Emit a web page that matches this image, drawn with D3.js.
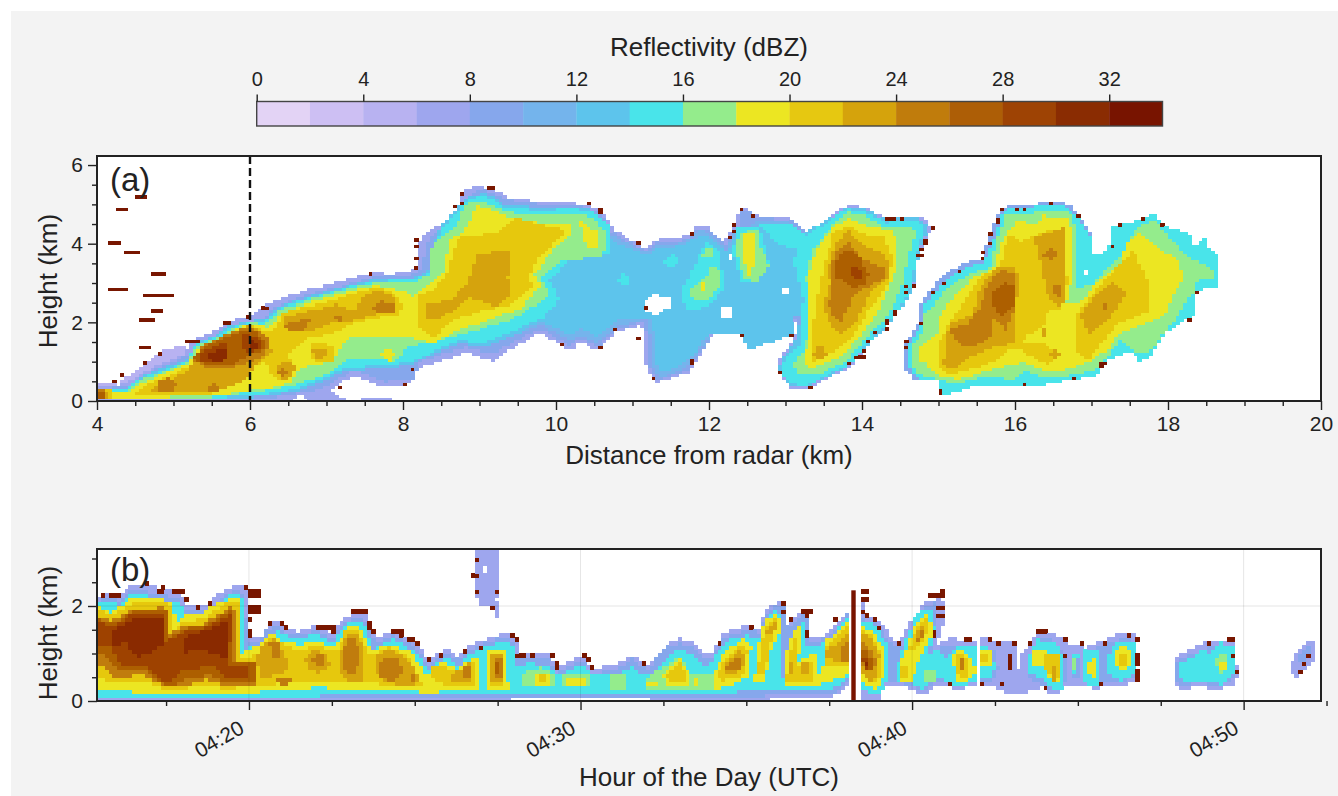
<!DOCTYPE html>
<html>
<head>
<meta charset="utf-8">
<script src="https://cdn.jsdelivr.net/npm/d3@7"></script>
<style>
html, body { margin: 0; padding: 0; background: #fff; }
svg { display: block; }
text { font-family: "Liberation Sans", sans-serif; fill: #222; }
</style>
</head>
<body>
<svg width="1338" height="796"></svg>
<script>
// colour bands, one for every 2 dBZ
const bandColors = ['#e3d3f5','#cdbff3','#b8b2f1','#9ea6ee','#86a7ec','#74b4ec','#5dc4ec','#49e4ea','#94ec8c','#ece622','#e6c811','#d5a30c','#c07c0c','#ad5e06','#9e4304','#8a2c02','#781400'];
const barTicks = [0,4,8,12,16,20,24,28,32];
const distTicks = [4,6,8,10,12,14,16,18,20];
const distMinor = [4.5,5,5.5,6.5,7,7.5,8.5,9,9.5,10.5,11,11.5,12.5,13,13.5,14.5,15,15.5,16.5,17,17.5,18.5,19,19.5];
const heightTicksA = [0,2,4,6];
const heightMinorA = [0.5,1,1.5,2.5,3,3.5,4.5,5,5.5];
const heightTicksB = [0,2];
const heightMinorB = [0.5,1,1.5,2.5,3];
const timeTicks = [20,30,40,50];
const timeMinor = [17.5,22.5,25,27.5,32.5,35,37.5,42.5,45,47.5,52.5];
const markerDist = 6;

// panel (a): contours, flat km,km pairs, area is >= that dBZ
const rhi4 = [[4,.44,4.25,.48,4.47,.7,4.65,.95,4.86,1.33,5.12,1.39,5.2,1.2,4.9,.9,4.5,.55,4,.3]];
const rhi6 = [[4,.38,4.3,.42,4.5,.6,4.8,.95,5.15,1.2,5.2,1.5,5.43,1.7,5.65,1.9,5.8,2.08,6,2.12,6.17,2.43,6.43,2.64,6.78,2.85,7.08,2.98,7.43,3.19,7.65,3.28,7.83,3.19,8.17,3.36,8.22,4.08,8.35,4.34,8.57,4.59,8.72,4.93,8.75,5.28,8.92,5.45,9.14,5.4,9.36,5.19,9.83,5.06,10.13,5.06,10.4,5,10.62,4.8,10.75,4.35,11.05,4,11.18,3.87,11.31,4.09,11.62,4.13,11.77,4.25,11.84,4.47,11.97,4.43,12.19,4,12.29,4.35,12.36,4.47,12.38,4.9,12.49,4.9,12.6,4.73,12.8,4.68,13.06,4.64,13.28,4.3,13.58,4.68,13.8,4.98,14.02,4.94,14.32,4.64,14.76,4.72,14.9,4.39,14.8,3.94,14.72,3.66,14.67,2.9,14.6,2.7,14.37,2.13,14.24,1.8,13.84,.87,13.58,.62,13.28,.32,13.06,.35,12.88,.78,12.93,1.12,13.1,1.54,13.15,1.89,13.1,2.23,13.03,2.4,12.97,2.31,12.97,1.88,12.76,1.72,12.47,1.5,12.43,1.93,12.1,1.93,11.97,1.46,11.75,.74,11.31,.48,11.18,.78,11.16,1.54,11.11,2,11,1.87,10.79,1.79,10.55,1.29,10.31,1.5,10.18,1.29,9.79,1.76,9.44,1.37,9.16,1.03,8.83,1.25,8.48,1.03,8.17,.86,8.09,.44,7.74,.36,7.35,.65,7.04,.31,7.2,.07,7.3,0,4,0],
  [7.43,0,7.45,.06,7.83,.06,7.85,0]];
const rhi8 = [[4,.3,4.4,.4,4.8,.85,5.2,1.2,5.3,1.5,5.7,1.72,5.85,1.98,6.05,2.05,6.2,2.15,6.3,2.4,6.8,2.75,7.1,2.88,7.45,3.08,7.7,3.2,8.1,3.22,8.25,3.4,8.3,4,8.4,4.25,8.7,4.5,8.8,5,8.95,5.38,9.15,5.33,9.38,5.13,9.85,5,10.15,5,10.4,4.94,10.6,4.75,10.72,4.33,11.05,3.95,11.18,3.82,11.31,4.03,11.62,4.07,11.77,4.2,11.85,4.4,11.97,4.37,12.22,3.95,12.3,4.3,12.4,4.42,12.42,4.85,12.5,4.85,12.62,4.68,13.06,4.6,13.28,4.25,13.58,4.63,13.8,4.93,14.02,4.88,14.32,4.6,14.74,4.68,14.87,4.39,14.76,3.94,14.68,3.66,14.62,2.9,14.56,2.7,14.33,2.13,14.2,1.8,13.82,.95,13.55,.65,13.28,.36,13.08,.4,12.92,.78,12.97,1.12,13.14,1.54,13.19,1.89,13.06,2.35,13,2.3,13,1.85,12.78,1.68,12.5,1.45,12.45,1.88,12.08,1.88,11.95,1.42,11.72,.8,11.33,.54,11.22,.84,11.2,1.58,11.14,2.06,11,1.93,10.8,1.85,10.55,1.38,10.32,1.58,10.18,1.4,9.8,1.85,9.44,1.5,9.16,1.2,8.83,1.38,8.48,1.2,8.2,1,8.15,.55,7.74,.5,7.35,.8,7.05,.45,6.8,.2,6.6,.2,6.3,.1,4,.06],
  [14.54,.87,14.54,1.38,14.63,1.63,14.74,2,14.74,2.4,14.84,2.69,15.04,3.16,15.33,3.5,15.56,3.62,15.67,4.17,15.8,4.94,16.15,4.98,16.41,5.07,16.7,5.02,16.85,4.68,17,4.17,17.02,3.71,17.22,3.84,17.24,4.43,17.55,4.56,17.81,4.77,17.98,4.43,18.29,4.22,18.33,3.92,18.48,4.17,18.53,3.88,18.64,3.75,18.64,2.9,18.37,2.82,18.35,2.23,18.07,1.89,17.94,1.72,17.76,1.12,17.63,1.04,17.5,1.29,17.2,1.04,17.07,.66,16.68,.53,16.33,.4,16.02,.4,15.5,.4,15.15,.19,15,.19,14.98,.53,14.67,.57]];
const rhi10 = [[9.9,4.95,10.4,4.88,10.6,4.65,10.68,4.28,11.05,3.9,11.18,3.78,11.31,3.98,11.62,4.02,11.77,4.15,11.86,4.35,11.97,4.32,12.23,3.85,12.32,4.25,12.66,4.6,13.06,4.56,13.28,4.2,13.25,1.5,13.2,2.3,13.05,2.3,13.05,1.8,12.8,1.6,12.5,1.38,12.45,1.82,12.05,1.82,11.9,1.35,11.7,.85,11.35,.6,11.25,.9,11.24,1.6,11.18,2.15,11,2,10.8,1.95,10.55,1.5,10.32,1.68,10.18,1.55,9.8,1.95,9.5,1.7]];
const rhi12 = [[4,.33,4.38,.34,4.6,.66,5.17,1.08,5.3,1.5,5.56,1.67,5.72,1.92,6,2.06,6.2,2.08,6.33,2.38,6.78,2.68,7.43,3.03,7.65,3.12,8.17,3.16,8.36,3.4,8.4,4.05,8.5,4.47,8.66,4.82,8.87,5.25,9.1,5.28,9.32,5.03,9.8,4.92,10.2,4.94,10.48,4.86,10.62,4.55,10.62,4.2,11.05,3.8,11.2,3.7,11.35,3.9,11.6,3.95,11.75,4.08,11.88,4.22,12,4.2,12.25,3.75,12.34,4.2,12.68,4.5,13.06,4.5,13.27,4.15,13.27,2.2,13.08,2.2,13.08,1.7,12.8,1.5,12.5,1.28,12.45,1.7,12,1.75,11.85,1.3,11.65,.95,11.4,.72,11.3,1,11.3,1.7,11.22,2.1,10.8,2.1,10.55,1.65,10.32,1.85,10.18,1.7,9.8,2.05,9.44,1.65,9.05,1.38,8.74,1.48,8.48,1.28,8.13,.97,7.87,.87,7.26,.78,6.87,.45,6.6,.25,6.21,.13,5.56,.07,4.47,.04,4,.04],
  [13.27,4.3,13.58,4.65,13.8,4.95,14.02,4.9,14.32,4.62,14.74,4.68,14.86,4.42,14.76,3.92,14.69,3.33,14.67,2.95,14.6,2.65,14.34,1.95,14.15,1.6,13.84,.92,13.49,.58,13.27,.36,13.06,.4,12.9,.78,12.95,1.08,13.12,1.5,13.2,2.2]];
const rhi14 = [[4,.31,4.38,.31,4.6,.61,5.17,1.03,5.3,1.46,5.56,1.63,5.73,1.88,6,2.03,6.2,2.03,6.35,2.35,6.78,2.64,7.43,2.98,7.65,3.07,8.17,3.11,8.39,3.36,8.43,4,8.52,4.43,8.68,4.77,8.87,5.15,9.09,5.23,9.31,4.94,9.79,4.85,10.22,4.9,10.48,4.81,10.7,4.47,10.7,3.75,10.22,3.75,9.92,3.07,10.05,2.6,9.83,2.14,9.44,1.8,9.05,1.46,8.74,1.55,8.48,1.34,8.13,1.03,7.87,.95,7.26,.86,6.87,.53,6.6,.31,6.21,.19,5.56,.1,4.47,.06,4,.06],
  [13.27,4.22,13.58,4.6,13.8,4.9,14.03,4.81,14.32,4.56,14.71,4.6,14.82,4.43,14.74,3.92,14.67,3.33,14.65,2.99,14.58,2.65,14.32,1.97,14.14,1.63,13.84,.95,13.49,.62,13.27,.4,13.06,.45,12.92,.78,12.97,1.04,13.19,1.46,13.23,2.65,13.15,3.2,13.1,3.6],
  [12.66,4.5,13.06,4.53,13.27,4.18,13.15,3.85,12.9,4],
  [11.64,2.82,11.88,3.75,11.97,4.05,12.14,3.83,12.18,3.33,12.18,2.82,11.97,2.4,11.7,2.3],
  [12.36,4.47,12.66,4.43,12.79,3.5,12.62,3,12.42,3.07,12.31,3.75],
  [10.8,3.05,10.88,3.25,10.96,3.15,10.92,2.95],[11.4,3.55,11.5,3.75,11.6,3.6,11.52,3.4],
  [14.6,.92,14.6,1.38,14.68,1.63,14.8,2,14.8,2.4,14.9,2.66,15.1,3.1,15.38,3.42,15.6,3.55,15.72,4.1,15.85,4.87,16.15,4.92,16.41,5,16.68,4.95,16.83,4.65,17,4.17,17.02,3.71,17.22,3.84,17.24,4.43,17.55,4.56,17.81,4.77,17.98,4.43,18.29,4.22,18.33,3.92,18.48,4.17,18.53,3.88,18.64,3.75,18.64,2.9,18.37,2.82,18.35,2.23,18.07,1.89,17.94,1.72,17.76,1.12,17.63,1.04,17.5,1.29,17.2,1.04,17.07,.66,16.68,.53,16.33,.4,16.02,.4,15.5,.4,15.15,.19,15,.19,14.98,.53,14.7,.6]];
const rhi16 = [[4,.27,4.38,.27,4.6,.57,5.17,.99,5.32,1.42,5.56,1.58,5.75,1.84,6,2,6.22,1.98,6.37,2.31,6.78,2.6,7.43,2.94,7.65,3.03,8.17,3.03,8.33,3.24,8.35,3.83,8.48,4.17,8.7,4.5,8.85,5.1,9.09,5.06,9.39,4.81,9.83,4.73,10.27,4.77,10.48,4.68,10.66,4.26,10.61,3.67,10.09,3.58,9.79,3.16,9.92,2.73,9.79,2.52,9.4,2.06,8.92,1.8,8.48,1.55,8.04,1.37,7.91,1.03,7.6,1.12,7.26,1.1,7.1,.8,6.87,.6,6.6,.44,6.3,.3,5.56,.12,4.47,.08,4,.08],
  [11.75,2.82,11.97,3.16,12.05,3.5,12.16,3.33,12.16,3,11.97,2.56,11.79,2.56],[11.92,3.67,12.05,3.67,12.05,3.9,11.95,3.95],
  [12.38,4.26,12.62,4.39,12.66,3.92,12.79,3.5,12.62,3,12.45,3.16,12.36,3.75],
  [13.27,3.16,13.36,3.84,13.62,4.51,13.8,4.81,14.03,4.73,14.32,4.43,14.67,4.43,14.69,4.26,14.56,3.33,14.54,3,14.37,2.31,14.24,1.97,14.1,1.72,13.8,1.04,13.45,.7,13.16,.7,13.1,.95,13.27,1.38,13.3,2.3],
  [14.65,.99,14.65,1.38,14.8,1.8,14.82,2.23,14.98,2.56,15.15,2.95,15.46,3.29,15.67,3.41,15.76,4.09,15.87,4.73,16.33,4.81,16.72,4.81,16.81,4.39,16.81,2.9,17.02,2.95,17.13,3.24,17.37,3.67,17.59,4.43,17.81,4.64,17.98,4.26,18.29,3.62,18.57,3.41,18.59,3.16,18.37,3.07,18.35,2.78,18.2,2.48,18.16,2.23,17.9,1.63,17.79,1.29,17.59,1.25,17.37,1.55,17.2,1.12,17.02,.79,16.68,.66,16.33,.62,16.15,.79,15.98,.57,15.54,.62,15.24,.45,14.98,.57,14.71,.7]];
const rhi18 = [[4,.19,4.47,.27,4.6,.48,5.17,.95,5.34,1.33,5.56,1.5,5.78,1.8,6,1.98,6.26,1.88,6.39,2.22,6.78,2.52,7.43,2.86,7.65,2.94,8.02,2.81,8.13,2.64,8.3,2.9,8.52,3.24,8.63,4.17,8.74,4.2,8.98,4.98,9.22,4.81,9.48,4.6,10.18,4.51,10.22,4.26,9.96,3.84,9.72,3.24,9.79,2.95,9.57,2.4,9.09,2.06,8.7,1.8,8.39,1.46,8,1.67,7.65,1.67,7.26,1.59,7.08,1.03,6.91,.95,6.65,.86,6.56,.53,6.34,.36,6,.27,5.56,.14,4.47,.1,4,.1],
  [10.31,4.6,10.53,4.34,10.57,3.92,10.4,3.88,10.35,4.26],[7.74,1.38,7.91,1.21,7.83,1.04,7.72,1.2],[11.88,3.03,11.97,3.03,11.97,2.78,11.88,2.78],
  [12.44,4.26,12.62,4.26,12.62,3.8,12.55,3.2,12.5,3.2,12.44,3.9],
  [13.3,3.16,13.4,3.84,13.62,4.43,13.82,4.68,14.1,4.43,14.36,4.39,14.45,4.17,14.43,3.33,14.37,3,14.24,2.4,14.01,1.72,13.71,1.12,13.36,.87,13.23,.95,13.32,1.63,13.3,2.3],
  [14.74,1.04,14.74,1.34,14.98,1.72,15,2.14,15.19,2.65,15.46,3.16,15.74,3.41,15.8,4,16.02,4.6,16.28,4.51,16.37,4.73,16.68,4.64,16.76,4.26,16.72,2.82,16.65,2.48,16.85,2.48,17.07,3.07,17.37,3.5,17.46,4,17.63,4.26,17.98,3.75,18.11,3.67,18.22,3.16,18.07,2.73,17.98,2.23,17.59,1.89,17.37,1.72,17.2,1.29,16.89,.96,16.5,.74,16.28,.87,16.11,1,15.8,.87,15.5,.7,15.28,.57,15.02,.62,14.8,1.04]];
const rhi20 = [[4,.06,4,.33,4.2,.3,4.2,.1],
  [4.51,.14,4.51,.2,4.64,.4,5.17,.86,5.39,1.29,5.6,1.46,5.82,1.75,6,1.95,6.2,1.8,6.3,1.75,6.43,2.26,6.78,2.43,7.13,2.6,7.39,2.77,7.65,2.9,7.87,2.77,8,2.47,7.96,2.2,7.65,2.14,7.3,1.97,7.08,1.72,6.78,1.63,6.6,1.4,6.5,1.2,6.6,.85,6.5,.55,6.3,.6,6.2,1,6.05,.9,6,.78,5.86,.53,5.52,.19,4.69,.14],
  [6.78,1.54,7.08,1.4,7.08,1.03,6.85,1.03,6.78,1.2],
  [8.22,1.9,8.22,2.73,8.39,2.81,8.6,3.3,8.62,3.6,8.74,4.17,9.22,4.3,9.46,4.68,9.96,4.43,10.14,4.39,9.96,4,9.7,3.5,9.66,3.16,9.7,2.9,9.44,2.48,9,2.31,8.65,2.06,8.39,1.6],
  [13.49,3.33,13.62,4.26,13.8,4.51,14.06,4.22,14.28,4.22,14.38,3.75,14.37,3.16,14.24,2.65,14.1,2.4,13.88,1.63,13.67,1.29,13.36,1.04,13.34,1.55,13.4,2.48],
  [14.98,.87,15,1.46,15.13,1.97,15.41,2.73,15.54,3.16,15.8,3.41,15.91,4.26,16.07,4.09,16.22,4.17,16.5,4.43,16.65,4.26,16.68,3,16.61,2.31,16.41,2.3,16.4,1.95,16.15,1.65,16.12,1.5,16.4,1.5,16.55,1.15,16.45,.95,16.25,1.1,16.05,1.35,15.9,1.3,15.76,1.04,15.5,.87,15.15,.7],
  [16.78,1.3,16.81,2.23,17.2,3.16,17.55,3.84,17.66,3.41,17.77,2.9,17.77,2.31,17.33,1.97,17.24,1.72,16.94,1.04]];
const rhi22 = [[4,.1,4,.3,4.12,.3,4.15,.12],
  [4.69,.27,5.17,.78,5.34,1.2,5.6,1.4,5.86,1.85,6,1.93,6.21,1.72,6.28,1.29,6.21,1.12,6.04,.86,5.95,.53,5.56,.27,4.73,.23],
  [6.43,2.14,6.87,2.35,7.13,2.48,7.35,2.3,7.48,2.65,7.65,2.82,7.91,2.65,7.91,2.31,7.65,2.22,7.3,2.05,7.04,2,6.82,1.8,6.56,1.76,6.43,1.88],
  [6.35,.85,6.4,1.05,6.55,1.05,6.6,.85,6.5,.55,6.42,.55],[6.82,1.3,7,1.3,6.95,1.05,6.85,1.1],
  [8.3,2.5,8.6,2.55,8.85,3,8.96,3.75,9.42,3.83,9.37,3.16,9.42,2.73,9.22,2.4,8.87,2.65,8.65,2.31,8.45,2.1,8.3,2.1],
  [13.56,3.41,13.67,4.05,13.82,4.34,14.06,3.92,14.32,3.75,14.34,3.16,14.1,2.73,13.93,2.06,13.75,1.72,13.62,1.87,13.49,2.4,13.58,2.99],[13.36,1.2,13.45,1.45,13.55,1.2,13.4,1.05],
  [15.06,.95,15.11,1.38,15.13,1.97,15.45,2.23,15.54,2.9,15.76,3.41,16.02,3.41,16.04,2.73,15.98,2.31,15.98,1.46,15.72,1.38,15.41,1.12,15.15,.79],
  [16.24,4.17,16.63,4.43,16.63,3.41,16.65,2.48,16.55,2.4,16.41,2.73,16.33,3.58],[16.85,2.23,17.07,2.73,17.29,3.03,17.46,2.73,17.24,2.14,16.96,1.72],
  [16.44,1.2,16.52,1.34,16.6,1.2,16.52,1.08],[16.33,1.63,16.39,1.63,16.39,1.9,16.33,1.9]];
const rhi24 = [[4,.12,4,.28,4.1,.28,4.1,.12],[5.22,1.1,5.4,1.42,5.7,1.72,5.9,1.86,6.05,1.86,6.22,1.65,6.27,1.37,6.13,1.12,5.78,.87,5.43,.87],
  [4.78,.3,4.82,.55,4.95,.6,5.04,.45,4.98,.22,4.85,.19],[5.43,.3,5.5,.45,5.62,.35,5.55,.2],[6.43,1.9,6.55,2.05,6.78,2.1,6.75,1.85,6.55,1.8],[7.08,2.12,7.15,2.2,7.25,2.12,7.17,2.05],
  [7.6,2.4,7.72,2.55,7.9,2.5,7.88,2.28,7.7,2.25],[6.34,.72,6.42,.85,6.5,.72,6.42,.6],
  [13.58,3.33,13.67,3.84,13.82,4.05,13.97,3.67,14.3,3.41,14.3,3.16,14.06,2.9,13.88,2.65,13.71,1.97,13.62,2.23,13.56,2.48,13.62,2.9],
  [15.15,1.87,15.37,1.97,15.54,2.4,15.63,2.9,15.8,3.37,16.02,3.24,16,2.4,15.89,1.8,15.72,2.14,15.67,1.55,15.37,1.38,15.19,1.63],
  [16.35,3.7,16.46,3.92,16.57,3.75,16.5,3.58],[16.5,2.8,16.55,3.07,16.61,2.85,16.56,2.6],[17.13,2.4,17.18,2.52,17.22,2.42,17.17,2.31]];
const rhi26 = [[4,.1,4,.26,4.08,.26,4.12,.1],[5.25,1.12,5.4,1.38,5.7,1.65,5.9,1.8,6.05,1.8,6.19,1.55,6.22,1.35,6,1.2,5.78,.95,5.43,.92],
  [13.67,3.58,13.8,3.88,13.97,3.67,14.08,3.24,14.06,2.95,13.88,2.9,13.67,3.16],
  [15.69,2.73,15.85,3.03,15.98,2.95,15.98,2.4,15.83,2.18,15.69,2.48]];
const rhi28 = [[5.32,1.15,5.45,1.35,5.72,1.5,5.72,1.1,5.6,.98,5.4,1],[5.9,1.72,6.1,1.62,6.17,1.4,6,1.25,5.88,1.4],[13.84,3.45,13.99,3.37,13.97,3.07,13.84,3.24]];
const rhi30 = [[5.42,1.1,5.5,1.28,5.68,1.3,5.7,1.08,5.55,1],[5.97,1.6,6.1,1.5,6.1,1.35,6,1.3]];
const rhiHoles = [[11.14,2.48,11.29,2.73,11.51,2.61,11.51,2.4,11.31,2.18,11.14,2.31],[12.14,2.4,12.32,2.4,12.32,2.1,12.14,2.1],[12.23,3.6,12.28,3.6,12.28,3.72,12.23,3.72],[12.97,2.7,13.03,2.7,13.03,2.9,12.97,2.9],[16.88,3.2,16.93,3.2,16.93,3.38,16.88,3.38],[6.52,0,6.65,.17,6.72,.1,6.74,0]];
// edge speckle above the top band: km from, km to, height
const rhiSpeckle = [[4.55,4.63,5.22],[4.27,4.37,4.85],[4.17,4.27,3.98],[4.38,4.51,3.75],[4.73,4.86,3.25],[4.17,4.37,2.88],[4.63,4.97,2.69],[4.73,4.82,2.3],[4.58,4.72,2.1],[4.58,4.67,1.36],[4.84,4.84,1.2],[4.64,4.64,.95],[4.35,4.35,.65],[4.24,4.24,.5],[5.15,5.32,1.5],[5.65,5.72,1.95],[5.95,5.95,2.13],[6.15,6.22,2.4],[7.15,7.15,.37],[7.59,7.59,3.25],[8.13,8.13,.78],[8.04,8.04,.44],[8.2,8.2,4.08],[8.2,8.2,3.9],[8.2,8.2,3.63],[8.2,8.2,3.4],[8.7,8.7,4.93],[8.75,8.75,5.25],[8.75,8.75,5.04],[9.12,9.2,5.39],[10.4,10.4,5.02],[10.55,10.55,4.87],[10.6,10.6,4.77],[11.05,11.05,3.99],[11.75,11.75,4.24],[12.35,12.35,4.45],[12.3,12.3,4.36],[12.25,12.25,4.16],[12.45,12.45,4.9],[12.6,12.6,4.74],[11.15,11.15,2.37],[10.79,10.79,1.8],[10.1,10.1,1.46],[10.55,10.55,1.34],[11.1,11.1,1.61],[11.75,11.75,1.04],[11.75,11.75,.94],[11.25,11.25,.62],[12.45,12.45,1.67],[13.1,13.1,1.65],[12.9,12.9,.72],[13.3,13.3,.36],[13.85,13.85,.94],[13.93,14,1.16],[14,14,1.28],[14.05,14.05,1.49],[14.2,14.2,1.75],[14.3,14.3,1.86],[14.35,14.35,2.1],[14.35,14.35,2],[14.4,14.4,2.34],[14.4,14.4,2.25],[14.35,14.42,4.64],[14.5,14.5,4.64],[14.8,14.8,4.13],[14.8,14.8,4.03],[14.75,14.75,3.86],[14.71,14.75,3.69],[14.9,14.9,4.41],[14.65,14.65,2.96],[14.6,14.6,2.89],[14.6,14.6,2.73],[16.46,16.46,5.06],[16.15,16.15,4.91],[16,16,4.91],[15.8,15.8,4.87],[15.75,15.75,4.66],[15.75,15.75,4.56],[15.7,15.7,4.22],[15.65,15.65,4.02],[15.6,15.6,3.8],[15.55,15.55,3.6],[15.25,15.25,3.28],[15.05,15.05,2.99],[14.95,14.95,2.8],[14.75,14.75,1.97],[14.6,14.6,1.5],[14.55,14.55,1.38],[15,15,.25],[15,15,.17],[16.1,16.1,.46],[16.75,16.75,.55],[17.13,17.2,1],[17.13,17.13,.9],[18.25,18.25,2.06],[18.35,18.35,2.76],[17.25,17.25,3.97],[17.35,17.4,4.49],[17.7,17.7,4.67],[17.95,17.95,4.5],[16.8,16.8,4.74]];

// panel (b): contours in minutes after 04:00, km
const thi6 = [[15.41,2.13,15.55,2.2,15.7,2.3,16.1,2.2,16.5,2.48,16.9,2.48,17.41,2.34,17.96,2.3,18.06,2.06,18.5,2.06,18.76,2.02,19.17,2.3,19.52,2.42,19.97,2.41,20.02,1.35,20.42,1.39,20.52,1.57,20.87,1.71,21.13,1.53,21.53,1.46,21.98,1.6,22.53,1.42,22.73,1.63,23.04,1.81,23.49,1.85,23.79,1.32,24.34,1.49,25.05,1.25,25.4,.86,25.95,1.11,26.35,.93,26.56,1.14,27.16,1.32,27.82,1.46,28.12,1.28,28.12,.97,29.07,.97,29.27,.69,29.48,.79,30.08,.97,30.28,.69,30.99,.74,31.54,.97,31.99,.76,32.29,.86,32.59,1.21,33,1.32,33.4,1.21,33.9,.93,34.3,1.42,35,1.6,35.41,1.53,35.56,1.92,35.9,2.07,36.2,2.06,36.2,1.63,36.4,1.67,36.66,1.9,36.87,1.88,36.87,1.35,37.32,1.39,37.72,1.67,38.12,1.95,38.12,.37,37.72,.13,36.5,.08,35.4,.03,30,.05,28,.05,27,0,15.41,0],
  [38.41,2.13,38.58,2.13,38.58,1.81,39.03,1.7,39.53,1.21,39.63,1.21,39.98,1.7,40.38,2.06,40.88,2.2,40.98,1.77,40.78,1.35,40.63,1.14,41.13,1.32,41.63,1.28,41.9,1.28,41.9,.37,41.3,.23,41.15,.37,40.64,.3,40.34,.13,39.93,.27,39.53,.37,39.08,.3,39.08,0,38.41,0],
  [42.08,1.35,42.55,1.21,43.1,1.25,43.2,.62,43.31,.97,43.72,1.42,44.07,1.49,44.62,1.28,44.77,1.14,45.11,1.25,45.2,1.1,45.32,1.18,45.77,1.25,46.17,1.39,46.68,1.42,46.8,.47,46.4,.37,45.87,.37,45.57,.23,45.22,.37,44.67,.37,44.31,.13,43.9,.3,43.47,.2,42.86,.2,42.35,.37,42.05,.37],
  [47.88,.82,48.03,.97,48.58,1.14,48.88,1.25,49.44,1.25,49.74,1.28,49.74,.86,49.9,.62,49.69,.37,49.14,.23,48.69,.37,48.24,.23,47.88,.37],
  [51.45,.86,51.8,1.21,52.06,1.25,52.2,1,51.86,.69,51.6,.48,51.43,.58],
  [26.78,3.2,27.47,3.2,27.57,2.76,27.57,2.2,27.42,2.2,27.55,1.85,27.42,1.74,27.32,2.06,26.9,2.06,26.78,2.55],
  [50,1.08,50.15,1.08,50.15,1.12,50,1.12],[50,.97,50.15,.97,50.15,1.01,50,1.01]];
const thi8 = [[15.41,2.1,15.7,2.22,16.1,2.12,16.5,2.38,17.4,2.25,17.95,2.2,18,1.96,18.75,1.93,19.2,2.2,19.5,2.34,19.9,2.3,19.92,1.26,20.4,1.31,20.5,1.48,20.87,1.62,21.13,1.45,21.53,1.38,21.98,1.52,22.53,1.35,22.73,1.55,23.04,1.72,23.49,1.76,23.8,1.23,24.34,1.4,25.05,1.15,25.4,.78,25.95,1.03,26.35,.85,26.56,1.06,27.16,1.24,27.82,1.38,28.05,1.2,28.05,.9,29.07,.9,29.27,.6,30.08,.9,30.28,.6,31,.66,31.54,.9,32,.68,32.59,1.13,33,1.24,33.4,1.13,33.9,.85,34.3,1.34,35,1.52,35.41,1.45,35.56,1.84,35.9,2,36.15,1.98,36.15,1.55,36.4,1.58,36.66,1.82,36.85,1.8,36.85,1.25,37.3,1.3,37.72,1.58,38.1,1.87,38.1,.42,37.72,.2,36.5,.17,35.4,.12,33,.12,30,.12,27,.08,15.41,.05],
  [38.41,1.78,39,1.62,39.45,1.15,39.7,1.15,40,1.62,40.4,1.97,40.75,2.1,40.7,1.4,40.55,1.05,41.1,1.22,41.9,1.2,41.9,.45,41.3,.32,41.15,.45,40.64,.38,40.34,.22,39.93,.35,39.53,.45,39.08,.38,38.41,.2],
  [42.1,1.2,42.5,1.08,42.6,.7,42.4,.45,42.1,.45],[43.5,.85,43.75,1.3,44.05,1.38,44.5,1.15,44.65,.9,44.65,.4,44.3,.22,43.9,.38,43.55,.5],[44.78,.5,45.02,.5,45.05,1.05,44.82,1.05],
  [45.2,1.08,45.77,1.17,46.17,1.3,46.65,1.33,46.7,.5,46.4,.45,45.87,.45,45.57,.32,45.2,.45],
  [48,.9,48.6,1.05,48.9,1.15,49.4,1.18,49.7,1.2,49.7,.5,49.14,.3,48.69,.45,48.24,.32,47.95,.45],
  [51.8,1.12,52.02,1.15,51.8,.75,51.6,.9]];
const thi14 = [[15.41,2.06,15.7,2.14,16.1,2.02,16.5,2.3,17.4,2.15,17.95,2.1,18.05,1.85,18.75,1.85,19.2,2.14,19.5,2.27,19.85,2.2,19.85,1.12,20.4,1.25,20.87,1.55,21.13,1.38,21.53,1.3,21.98,1.45,22.53,1.27,22.73,1.48,23.04,1.65,23.49,1.68,23.75,1.12,24.34,1.32,25.05,1.05,25.4,.68,25.95,.95,26.35,.75,26.56,.98,27.16,1.18,27.82,1.28,28,1.1,28,.7,28.5,.82,29,.75,29.3,.55,29.6,.66,30.1,.8,30.3,.55,31,.58,31.54,.72,32,.55,32.4,.72,32.7,1,33,1.1,33.4,1,33.8,.72,34.1,1,34.5,1.3,35,1.4,35.45,1.3,35.55,1.7,35.85,1.92,36.1,1.85,36.08,.5,36.15,.5,36.3,1.2,36.65,1.72,36.8,1.7,36.8,1.15,37.3,1.22,37.72,1.5,38.05,1.8,38.05,.5,37.7,.3,37.2,.28,36.8,.28,36.1,.25,35.4,.25,34.5,.2,33,.2,31,.18,29,.17,27,.15,25,.15,22.5,.13,19.3,.1,15.41,.12],
  [38.41,1.7,38.8,1.65,39.3,1.2,39.25,.4,38.95,.15,38.41,.3],[39.55,.45,39.6,.9,39.9,1.45,40.1,1.85,40.4,1.95,40.65,1.95,40.68,1.45,40.45,1,40.8,1.1,41,.93,41.4,1.21,41.9,1.18,41.9,.41,41.3,.3,40.95,.5,40.7,.45,40.3,.28,39.95,.4],
  [42.08,1.2,42.4,1.1,42.5,.7,42.35,.52,42.08,.55],[43.46,.93,43.76,1.32,44.37,1.21,44.57,.93,44.57,.3,44.27,.23,44.07,.44,43.56,.58],[44.8,.6,44.95,.6,45,1,44.85,1],
  [45.22,1.07,45.67,1.14,45.67,.37,45.42,.3,45.22,.44],[45.92,1,46.17,1.28,46.68,1.28,46.68,.58,46.27,.44,45.92,.58],
  [48.03,.8,48.49,.93,48.8,1.14,49,1,49.3,1.25,49.69,1.14,49.69,.58,49.3,.37,48.89,.44,48.39,.37,48.03,.51]];
const thi16 = [[28.27,.61,28.8,.72,29.18,.6,29.18,.34,28.27,.34],[29.48,.61,30.28,.61,30.28,.34,29.48,.34],[30.88,.58,31.39,.58,31.39,.27,30.88,.27],
  [31.94,.51,32.49,.72,33,.97,33.3,.62,33.99,.58,33.99,.27,31.94,.27],[40.35,.65,40.7,.65,40.7,.44,40.35,.44],[44.85,.7,44.95,.7,44.95,.9,44.85,.9],[49.14,.9,49.4,1.04,49.55,.72,49.25,.58]];
const thi18 = [[15.41,2.02,15.87,1.88,16.5,2.2,16.9,2.2,17.7,2.13,17.8,1.64,18.1,1.81,18.5,1.85,19,2.06,19.5,2.2,19.77,2.13,19.77,1,20.32,1.21,20.72,1.46,21.03,1.28,21.53,1.21,22.03,1.28,22.53,1.14,22.73,1.28,23.04,1.6,23.34,1.6,23.74,1.07,24.24,1.21,24.85,1.07,25.35,.58,25.85,.83,26.35,.69,26.55,.83,26.95,.95,26.95,.25,25.35,.2,24,.27,22,.3,20.52,.23,19.32,.13,17.4,.16,15.41,.27],
  [27.15,1.12,27.75,1.12,27.85,.25,27.2,.22],[28.57,.62,29.07,.62,29.07,.37,28.57,.37],[29.53,.5,30.18,.5,30.18,.35,29.53,.35],[31.94,.45,32.35,.45,32.35,.3,31.94,.3],[32.49,.58,33,.92,33.25,.62,33.25,.32,32.6,.33],[33.38,.5,33.5,.5,33.5,.3,33.38,.3],
  [33.95,.58,34.4,1.07,34.9,1.32,35.16,1.14,35.06,.51,34.6,.37,34,.23],[35.26,.44,35.31,1.07,35.56,1.7,35.86,1.85,36.06,1.7,35.96,1.35,35.71,1,35.56,.44],
  [36.11,.3,36.16,1,36.52,1.63,36.67,1.56,36.56,.86,36.92,1,37.12,.98,37.22,.37,36.52,.3],[37.27,.44,37.37,1.28,37.82,1.53,38.12,1.74,38.12,.58,37.4,.42],
  [38.41,1.58,38.73,1.53,39.12,1.14,39.13,.51,38.88,.27,38.41,.44],[39.63,.44,39.68,.86,39.93,1.28,40.13,1.7,40.53,1.85,40.58,1.43,40.23,.93,39.98,.44],
  [41.25,1,41.45,1.14,41.8,.93,41.9,.65,41.6,.4,41.3,.44],[42.08,1.07,42.35,1.07,42.35,.72,42.08,.72],[43.55,.97,43.76,1.14,44.06,1.07,44.41,1,44.46,.44,44.16,.44,44.06,.72,43.66,.72],
  [45.32,.86,45.57,.97,45.57,.48,45.32,.58],[46.12,1.07,46.32,1.21,46.57,1.11,46.57,.76,46.27,.65,46.12,.79],[49.25,.87,49.45,.87,49.45,.7,49.25,.7]];
const thi20 = [[15.41,1.95,15.87,1.81,16.5,2.09,17,2.13,17.65,2.06,17.7,1.53,18.1,1.7,18.6,1.74,19.1,1.99,19.5,2.13,19.72,2.06,19.67,.9,20.22,1,20.67,1.39,21.03,1.21,21.53,1.07,22.03,1.21,22.63,1.04,22.94,1.53,23.29,1.53,23.64,.97,24.24,1.14,24.8,.97,25.2,.44,25.45,.3,24.55,.37,22,.41,20.52,.37,19.32,.27,18.5,.37,17.91,.23,17.4,.27,17,.41,16,.44,15.41,.48],
  [25.5,.75,25.85,.75,26.35,.62,26.85,.9,26.85,.35,25.9,.35,25.5,.5],[27.25,1.05,27.7,1.05,27.7,.32,27.25,.32],[28.7,.55,28.95,.55,28.95,.4,28.7,.4],[32.6,.55,33,.85,33.15,.6,33.1,.4,32.7,.4],
  [34.1,.58,34.5,1,34.9,1.21,35.05,1.07,34.95,.58,34.3,.44],[35.36,.58,35.41,1.07,35.61,1.56,35.86,1.77,35.96,1.63,35.71,1.21,35.56,.58],
  [36.21,.4,36.26,.97,36.52,1.42,36.56,.72,36.92,.86,37.07,.86,37.07,.44],[37.32,.79,37.42,1.21,37.82,1.42,38.12,1.63,38.12,.72],
  [38.41,1.5,38.73,1.45,39.05,1.05,39,.55,38.88,.4,38.41,.6],[39.93,1.14,40.18,1.63,40.48,1.78,40.53,1.5,40.08,1.07],[39.68,.75,39.85,.75,39.85,.5,39.68,.5],[41.35,.95,41.45,1.05,41.65,.9,41.65,.55,41.45,.48,41.35,.62],[42.08,.97,42.3,.97,42.3,.82,42.08,.82],[44,1,44.4,.98,44.4,.48,44.2,.48,44,.75],[46.2,.98,46.45,.98,46.45,.76,46.2,.76]];
const thi22 = [[20.2,.95,20.5,1.25,20.8,1.35,21,1.1,21.2,.8,21,.6,20.4,.5],[21.7,.9,21.95,1.08,22.4,1.02,22.45,.75,22.1,.62,21.8,.68],[22.75,1,22.95,1.45,23.3,1.45,23.5,.95,23.5,.45,23,.45,22.7,.6],[23.85,1,24.3,1.1,24.8,.9,25.15,.55,25,.3,24.2,.4,23.85,.6],
  [26.1,.6,26.75,.85,26.75,.4,26.15,.42],[27.3,1,27.65,1,27.65,.4,27.3,.4],[34.25,.65,34.6,.97,34.9,1.11,34.95,.79,34.7,.58],[35.61,1.5,35.86,1.7,35.91,1.56,35.66,1.35],[36.26,.8,36.41,.86,36.46,.58,36.26,.58],[36.7,.82,36.9,.82,36.9,.58,36.7,.58],
  [37.37,.93,37.47,1.14,37.82,1.28,38.12,1.5,38.12,.79],[38.41,1.45,38.7,1.38,39,1,38.95,.55,38.8,.4,38.41,.6],[40.03,1.2,40.23,1.56,40.43,1.67,40.43,1.43],[41.4,.9,41.6,.9,41.6,.65,41.4,.65],[44.2,.72,44.35,.72,44.35,.45,44.2,.45]];
const thi24 = [[15.41,1.81,15.87,1.7,16.5,1.95,17.5,1.99,17.6,1.42,18.1,1.6,18.6,1.63,19.1,1.85,19.5,2.02,19.62,1.78,19.57,.83,20.22,.86,20.27,.37,19.32,.34,18.7,.48,17.91,.3,17.4,.37,16.8,.58,16,.5,15.49,.79,15.41,.79],
  [20.6,1.3,20.9,1.25,21,.9,20.7,.9],[21.85,.9,22.05,1,22.3,.95,22.25,.8,22,.75],[22.85,1.1,23.02,1.35,23.25,1.3,23.35,.9,23.2,.6,22.9,.65],[23.85,.75,24.1,.95,24.5,.9,24.7,.65,24.4,.42,24,.5],[24.9,.55,25,.55,25,.42,24.9,.42],[20.8,.45,21,.55,21.3,.5,21.2,.34,20.9,.35],
  [26.45,.72,26.7,.78,26.7,.5,26.45,.5],[27.38,.95,27.6,.95,27.6,.5,27.38,.5],[34.35,.69,34.7,.93,34.85,.93,34.8,.69,34.5,.65],[37.82,1.18,38.12,1.28,38.12,.83,37.82,.9],[38.41,1.3,38.65,1.2,38.9,.9,38.85,.6,38.4,.8],[40.08,1.2,40.23,1.45,40.38,1.56,40.33,1.35],[41.45,.9,41.55,.9,41.55,.68,41.45,.68]];
const thi26 = [[15.41,1.77,15.87,1.64,16.5,1.9,17.55,1.93,17.55,1.35,18.1,1.55,18.65,1.6,19.1,1.78,19.5,1.95,19.5,.82,20.2,.84,20.2,.42,19.3,.42,18.8,.58,18,.45,17.7,.35,17.35,.4,16.85,.68,16.05,.65,15.65,1,15.41,1],
  [27.45,.85,27.55,.85,27.55,.62,27.45,.62],[38.41,1.15,38.6,1.1,38.85,.8,38.8,.62,38.41,.9]];
const thi28 = [[15.41,1.7,15.87,1.56,16.5,1.85,17.5,1.88,17.5,1.28,18.1,1.5,18.7,1.56,19.1,1.7,19.47,1.88,19.4,.79,20,.8,20,.5,19.2,.55,18.9,.76,18,.65,17.6,.37,17.3,.44,16.9,.79,16.1,.79,15.8,1.2,15.41,1.21],[38.5,.95,38.7,.95,38.75,.8,38.65,.7,38.45,.85]];
const thi30 = [[15.9,1.5,16.5,1.74,17.4,1.78,17.4,1.2,16.9,1,16.6,.93,16.3,1.28,15.9,1.14],[18,1.35,18.7,1.5,19.32,1.7,19.32,.93,18.9,1,18.5,1.14,18,1],[38.6,.88,38.7,.85,38.65,.75,38.58,.8]];
const thiHoles = [[27.02,2.72,27.12,2.72,27.12,2.85,27.02,2.85]];
const thiSpeckle = [[15.6,15.6,2.2],[15.85,16.1,2.26],[16.9,16.95,2.46],[17.4,17.4,2.4],[17.25,17.4,2.3],[17.8,18,2.3],[18.05,18.05,2.13],[18.45,18.45,1.95],[18.85,18.85,2.1],[19.9,19.9,2.4],[20,20.25,2.3],[20,20.25,2.2],[20,20.25,1.98],[20,20.25,1.88],[20.07,20.07,1.75],[20,20,1.5],[20,20,1.4],[20.6,20.6,1.6],[21,21,1.67],[21.1,21.1,1.53],[22.05,22.5,1.55],[22.5,22.5,1.46],[23.1,23.5,1.86],[23.6,23.6,1.65],[23.6,23.6,1.55],[23.75,23.75,1.47],[24.4,24.6,1.5],[24.65,24.65,1.37],[24.85,24.85,1.32],[25,25,1.28],[25.1,25.1,1.2],[25.4,25.4,.9],[25.8,25.8,1],[26.56,26.56,1.04],[26.96,26.96,1.14],[27.92,27.92,1.39],[28.05,28.05,1.28],[28.1,28.25,.93],[28.6,28.6,.95],[29.1,29.1,.93],[29.25,29.25,.8],[29.25,29.25,.7],[30.1,30.1,.95],[30.2,30.2,.88],[30.35,30.35,.7],[31.85,31.85,.83],[34.15,34.15,1.2],[35.1,35.1,1.55],[36.15,36.15,2.05],[36.15,36.15,1.92],[36.3,36.3,1.74],[36.7,36.9,1.88],[36.87,36.87,1.8],[36.85,36.85,1.5],[36.85,36.85,1.35],[37.67,37.67,1.7],[26.85,26.85,3.02],[26.75,26.9,2.69],[26.85,26.85,2.34],[27.5,27.5,2.28],[27.4,27.4,2],[38.5,38.65,2.28],[38.5,38.65,2.18],[38.45,38.45,1.93],[38.6,38.6,1.8],[38.9,38.9,1.74],[39.05,39.05,1.55],[39.55,39.55,1.25],[40.55,40.9,2.2],[40.9,40.9,2.28],[40.8,40.95,1.95],[40.8,40.95,1.85],[40.7,40.7,1.5],[40.7,40.7,1.4],[41.15,41.15,.34],[41.6,41.6,1.33],[41.7,41.7,1.28],[42.4,42.4,1.33],[42.55,42.55,1.18],[42.15,42.15,.4],[42.7,42.7,.34],[42.95,42.95,1],[42.95,42.95,.9],[42.95,42.95,.8],[42.95,42.95,.7],[43.05,43.05,1.25],[43.5,43.5,1.18],[43.75,43.75,1.45],[43.95,44.05,1.5],[44.6,44.6,1.3],[44.6,44.6,.95],[44,44,.3],[45.1,45.1,1.23],[45.65,45.65,.37],[45.8,45.8,1.25],[46.6,46.6,1.43],[46.75,46.75,1.3],[46.75,46.75,.97],[46.75,46.75,.87],[46.75,46.75,.77],[46.75,46.75,.67],[46.75,46.75,.57],[46.75,46.75,.48],[49,49,1.25],[49.5,49.7,1.3],[49.7,49.7,.93],[49.8,49.8,.6],[41.2,41.2,.34],[52,52,.93],[52,52,1],[51.88,51.88,.78],[51.73,51.73,.66]];
const thiBar = [38.16,38.3,2.33];

const rhiContours = [[4,rhi4],[6,rhi6],[8,rhi8],[10,rhi10],[12,rhi12],[14,rhi14],[16,rhi16],[18,rhi18],[20,rhi20],[22,rhi22],[24,rhi24],[26,rhi26],[28,rhi28],[30,rhi30]];
const thiContours = [[6,thi6],[8,thi8],[14,thi14],[16,thi16],[18,thi18],[20,thi20],[22,thi22],[24,thi24],[26,thi26],[28,thi28],[30,thi30]];

const svg = d3.select('svg');
const minute = m => new Date(Date.UTC(2000, 0, 1, 4, 0, Math.round(m * 60)));
const top3 = 33;

svg.append('rect').attr('x', 11).attr('y', 11).attr('width', 1327).attr('height', 785).attr('fill', '#f3f3f3');

const defs = svg.append('defs');
defs.append('filter').attr('id', 'soft').attr('x', '-1%').attr('y', '-1%').attr('width', '102%').attr('height', '102%')
    .append('feGaussianBlur').attr('stdDeviation', 0.6);

const color = d3.scaleQuantize().domain([0, 34]).range(bandColors);

function toPoly(flat) {
    const pts = [];
    for (let i = 0; i < flat.length; i += 2) pts.push([flat[i], flat[i + 1]]);
    return pts;
}

// turn contours into grid cells
function cells(contours, holes, speckle, xDom, yDom, dx, dy) {
    const nx = Math.round((xDom[1] - xDom[0]) / dx), ny = Math.round((yDom[1] - yDom[0]) / dy);
    const layers = contours.slice().reverse().map(([v, list]) => [v, list.map(toPoly)]);
    const holePolys = holes.map(toPoly);
    const grid = new Map();
    for (let i = 0; i < nx; i++) {
        for (let j = 0; j < ny; j++) {
            const p = [xDom[0] + (i + .5) * dx, yDom[0] + (j + .5) * dy];
            if (holePolys.some(q => d3.polygonContains(q, p))) continue;
            for (const [v, list] of layers) {
                if (list.some(q => d3.polygonContains(q, p))) { grid.set(i + ',' + j, {i, j, v}); break; }
            }
        }
    }
    speckle.forEach(([a, b, h]) => {
        const j = Math.floor((h - yDom[0]) / dy);
        for (let i = Math.floor((a - xDom[0]) / dx); i <= Math.floor((b - xDom[0]) / dx); i++) grid.set(i + ',' + j, {i, j, v: top3});
    });
    return Array.from(grid.values());
}

function frame(g, x0, y0, w, h) {
    g.append('rect').attr('x', x0).attr('y', y0).attr('width', w).attr('height', h)
        .attr('fill', 'none').attr('stroke', '#222').attr('stroke-width', 2);
}

function styleAxis(a, size) {
    a.select('.domain').remove();
    a.selectAll('line').attr('stroke', '#222').attr('stroke-width', 1.4);
    a.selectAll('text').attr('font-size', size || 21).attr('fill', '#222');
}

// colourbar
const barX = d3.scaleLinear().domain([0, 34]).range([256.7, 1162.5]);
const barY0 = 101.5, barY1 = 126;
svg.selectAll('.band').data(bandColors).join('rect').attr('class', 'band')
    .attr('x', (d, i) => barX(i * 2)).attr('y', barY0)
    .attr('width', (d, i) => barX(i * 2 + 2) - barX(i * 2) + .3).attr('height', barY1 - barY0)
    .attr('fill', d => d);
svg.append('rect').attr('x', barX(0)).attr('y', barY0).attr('width', barX(34) - barX(0)).attr('height', barY1 - barY0)
    .attr('fill', 'none').attr('stroke', '#444').attr('stroke-width', 1.4);
const barAxis = svg.append('g').attr('transform', `translate(0,${barY0})`)
    .call(d3.axisTop(barX).tickValues(barTicks).tickSize(7).tickPadding(9).tickFormat(d3.format('d')));
styleAxis(barAxis, 20);
svg.append('text').attr('x', 709).attr('y', 56).attr('text-anchor', 'middle').attr('font-size', 26).text('Reflectivity (dBZ)');

// panel (a)
const ax = {left: 97, right: 1321, top: 156, bottom: 401};
const xDist = d3.scaleLinear().domain([4, 20]).range([ax.left, ax.right]);
const yA = d3.scaleLinear().domain([0, 6.23]).range([ax.bottom, ax.top]);
svg.append('rect').attr('x', ax.left).attr('y', ax.top).attr('width', ax.right - ax.left).attr('height', ax.bottom - ax.top).attr('fill', '#fff');
const rhiCells = cells(rhiContours, rhiHoles, rhiSpeckle, [4, 20], [0, 6.23], 0.05, 0.078);
svg.append('g').attr('filter', 'url(#soft)').selectAll('rect').data(rhiCells).join('rect')
    .attr('shape-rendering', 'crispEdges')
    .attr('x', d => xDist(4 + d.i * 0.05)).attr('y', d => yA((d.j + 1) * 0.078))
    .attr('width', xDist(4.05) - xDist(4) + .6).attr('height', yA(0) - yA(0.078) + .6)
    .attr('fill', d => color(d.v));
svg.append('line').attr('x1', xDist(markerDist)).attr('x2', xDist(markerDist)).attr('y1', ax.top).attr('y2', ax.bottom)
    .attr('stroke', '#111').attr('stroke-width', 2.4).attr('stroke-dasharray', '8 4');
frame(svg, ax.left, ax.top, ax.right - ax.left, ax.bottom - ax.top);
styleAxis(svg.append('g').attr('transform', `translate(0,${ax.bottom})`)
    .call(d3.axisBottom(xDist).tickValues(distTicks).tickSize(9).tickPadding(6).tickFormat(d3.format('d'))));
styleAxis(svg.append('g').attr('transform', `translate(0,${ax.bottom})`)
    .call(d3.axisBottom(xDist).tickValues(distMinor).tickSize(5).tickFormat('')));
styleAxis(svg.append('g').attr('transform', `translate(${ax.left},0)`)
    .call(d3.axisLeft(yA).tickValues(heightTicksA).tickSize(9).tickPadding(5).tickFormat(d3.format('d'))));
styleAxis(svg.append('g').attr('transform', `translate(${ax.left},0)`)
    .call(d3.axisLeft(yA).tickValues(heightMinorA).tickSize(5).tickFormat('')));
svg.append('text').attr('x', 709).attr('y', 464).attr('text-anchor', 'middle').attr('font-size', 26).text('Distance from radar (km)');
svg.append('text').attr('transform', 'translate(57,281) rotate(-90)').attr('text-anchor', 'middle').attr('font-size', 26).text('Height (km)');
svg.append('text').attr('x', 110).attr('y', 191).attr('font-size', 33).text('(a)');

// panel (b)
const bx = {left: 97, right: 1321, top: 549, bottom: 701};
const xTime = d3.scaleUtc().domain([minute(15.41), minute(52.33)]).range([bx.left, bx.right]);
const yB = d3.scaleLinear().domain([0, 3.2]).range([bx.bottom, bx.top]);
svg.append('rect').attr('x', bx.left).attr('y', bx.top).attr('width', bx.right - bx.left).attr('height', bx.bottom - bx.top).attr('fill', '#fff');
const tStep = 0.12, hStep = 0.0842;
const thiCells = cells(thiContours, thiHoles, thiSpeckle, [15.41, 52.33], [0, 3.2], tStep, hStep);
svg.append('g').attr('filter', 'url(#soft)').selectAll('rect').data(thiCells).join('rect')
    .attr('shape-rendering', 'crispEdges')
    .attr('x', d => xTime(minute(15.41 + d.i * tStep))).attr('y', d => yB((d.j + 1) * hStep))
    .attr('width', xTime(minute(15.41 + tStep)) - xTime(minute(15.41)) + .6).attr('height', yB(0) - yB(hStep) + .6)
    .attr('fill', d => color(d.v));
svg.append('rect').attr('x', xTime(minute(thiBar[0]))).attr('y', yB(thiBar[2]))
    .attr('width', xTime(minute(thiBar[1])) - xTime(minute(thiBar[0]))).attr('height', yB(0) - yB(thiBar[2]))
    .attr('fill', bandColors[16]);
// faint grid over the data
svg.append('g').selectAll('line').data(timeTicks).join('line')
    .attr('x1', d => xTime(minute(d))).attr('x2', d => xTime(minute(d))).attr('y1', bx.top).attr('y2', bx.bottom)
    .attr('stroke', '#000').attr('stroke-opacity', .1);
svg.append('line').attr('x1', bx.left).attr('x2', bx.right).attr('y1', yB(2)).attr('y2', yB(2))
    .attr('stroke', '#000').attr('stroke-opacity', .1);
frame(svg, bx.left, bx.top, bx.right - bx.left, bx.bottom - bx.top);
const timeAxis = svg.append('g').attr('transform', `translate(0,${bx.bottom})`)
    .call(d3.axisBottom(xTime).tickValues(timeTicks.map(minute)).tickSize(9).tickFormat(d3.utcFormat('%H:%M')));
styleAxis(timeAxis);
timeAxis.selectAll('text').attr('text-anchor', 'end').attr('transform', 'rotate(-30)').attr('x', -19).attr('y', 25).attr('dy', 0);
styleAxis(svg.append('g').attr('transform', `translate(0,${bx.bottom})`)
    .call(d3.axisBottom(xTime).tickValues(timeMinor.map(minute)).tickSize(5).tickFormat('')));
styleAxis(svg.append('g').attr('transform', `translate(${bx.left},0)`)
    .call(d3.axisLeft(yB).tickValues(heightTicksB).tickSize(9).tickPadding(5).tickFormat(d3.format('d'))));
styleAxis(svg.append('g').attr('transform', `translate(${bx.left},0)`)
    .call(d3.axisLeft(yB).tickValues(heightMinorB).tickSize(5).tickFormat('')));
svg.append('text').attr('x', 709).attr('y', 786).attr('text-anchor', 'middle').attr('font-size', 26).text('Hour of the Day (UTC)');
svg.append('text').attr('transform', 'translate(57,633) rotate(-90)').attr('text-anchor', 'middle').attr('font-size', 26).text('Height (km)');
svg.append('text').attr('x', 110).attr('y', 581).attr('font-size', 33).text('(b)');
</script>
</body>
</html>
